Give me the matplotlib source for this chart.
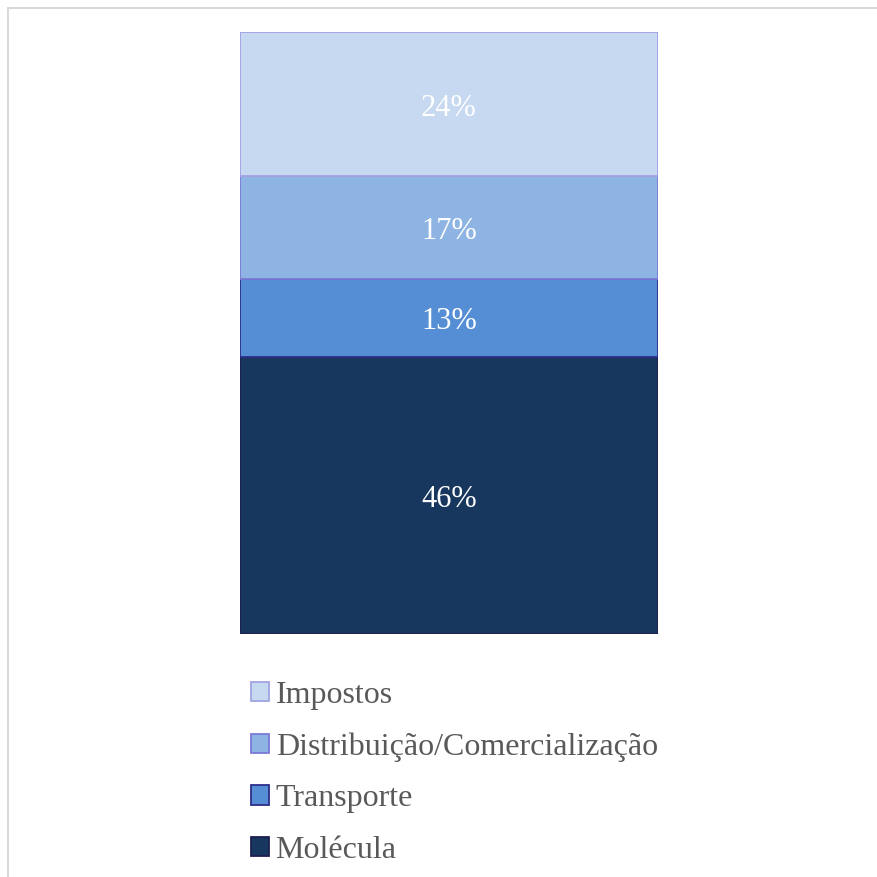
import matplotlib
matplotlib.use("Agg")
import matplotlib.pyplot as plt
from matplotlib.patches import Rectangle, Patch

categories = ["Molécula", "Transporte", "Distribuição/Comercialização", "Impostos"]
values = [46, 13, 17, 24]
labels = ["46%", "13%", "17%", "24%"]
fills = ["#17375E", "#558ED5", "#8EB4E3", "#C6D9F0"]
edges = ["#1F1F4F", "#2E2E8A", "#7B7BD6", "#A3A3E3"]

plt.rcParams['font.family'] = ['Liberation Serif', 'DejaVu Serif']

W, H = 878, 877
fig = plt.figure(figsize=(W / 100, H / 100), dpi=100)

# outer chart frame
fig.patches.append(Rectangle((8 / W, -0.1), 1.2, 1 - 8 / H + 0.1, transform=fig.transFigure,
                             fill=False, edgecolor="#D9D9D9", linewidth=1.5))

ax = fig.add_axes([240 / W, (H - 634) / H, (658 - 240) / W, 602 / H])
bottom = 0
handles = []
for cat, v, lab, fc, ec in zip(categories, values, labels, fills, edges):
    ax.bar(0, v, width=1.0, bottom=bottom, color=fc, edgecolor=ec, linewidth=1.3)
    ax.annotate(lab, (0, bottom + v / 2), xytext=(0, -4), textcoords="offset pixels",
                ha="center", va="center", color="white", fontsize=22)
    handles.append(Patch(facecolor=fc, edgecolor=ec, linewidth=1.3, label=cat))
    bottom += v
ax.set_xlim(-0.5, 0.5)
ax.set_ylim(0, bottom)
ax.axis("off")

leg = fig.legend(handles=handles[::-1], loc="upper left",
                 bbox_to_anchor=(251 / W, 1 - 681 / H), frameon=False,
                 fontsize=23, handlelength=0.55, handleheight=0.55, handletextpad=0.22,
                 labelspacing=0.70, borderpad=0, borderaxespad=0)
for t in leg.get_texts():
    t.set_color("#595959")

fig.savefig("out.png", dpi=100)
